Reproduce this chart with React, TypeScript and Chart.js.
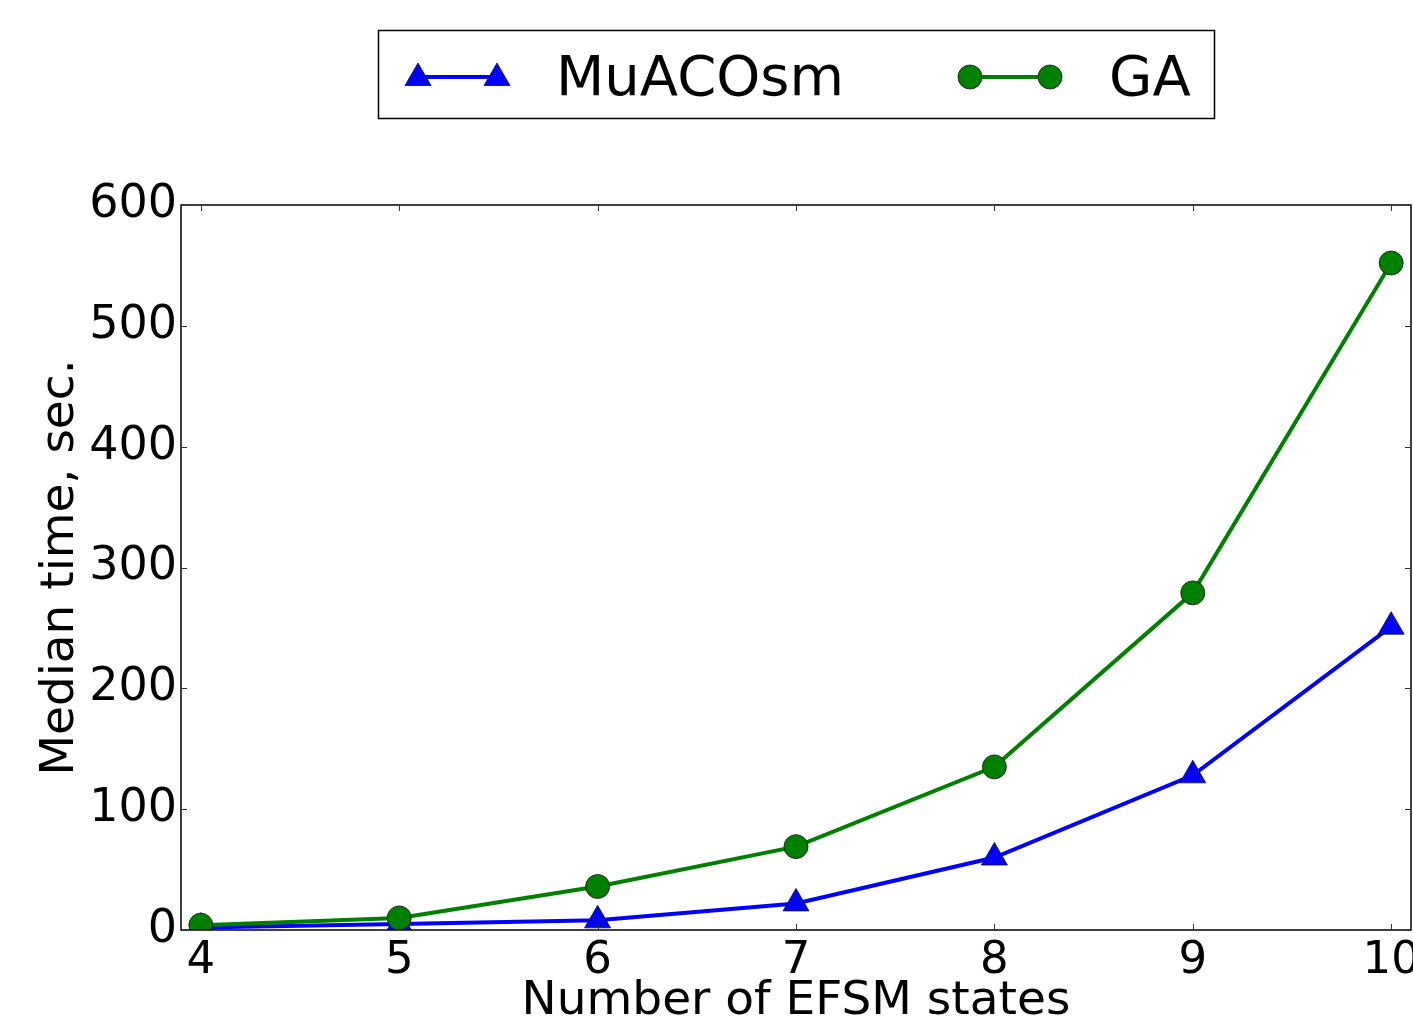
import React, { useEffect, useRef } from "react";
import { Chart, registerables } from "chart.js";

Chart.register(...registerables);

const states = [4, 5, 6, 7, 8, 9, 10];
const muacosm = [2, 5, 8, 22, 60, 128, 251];
const ga = [4, 10, 36, 69, 135, 279, 552];
const xTicks = [4, 5, 6, 7, 8, 9, 10];
const yTicks = [0, 100, 200, 300, 400, 500, 600];
const seriesNames = ["MuACOsm", "GA"];
const xTitle = "Number of EFSM states";
const yTitle = "Median time, sec.";

const FONT = "'DejaVu Sans', 'Liberation Sans', sans-serif";
const BLUE = "#0000ff";
const GREEN = "#008000";

function triangle(ctx: CanvasRenderingContext2D, x: number, y: number, r: number) {
  ctx.beginPath();
  for (let k = 0; k < 3; k++) {
    const a = -Math.PI / 2 + (k * 2 * Math.PI) / 3;
    const px = x + Math.cos(a) * r;
    const py = y + Math.sin(a) * r;
    if (k === 0) ctx.moveTo(px, py);
    else ctx.lineTo(px, py);
  }
  ctx.closePath();
}

const framePlugin = {
  id: "frame",
  afterDatasetsDraw(chart: any) {
    const { ctx, chartArea } = chart;
    const { left, right, top, bottom } = chartArea;
    const xs = chart.scales.x;
    const ys = chart.scales.y;
    ctx.save();
    ctx.strokeStyle = "#000";
    ctx.lineWidth = 1.5;
    ctx.strokeRect(left, top, right - left, bottom - top);
    ctx.strokeStyle = "#333";
    ctx.lineWidth = 1;
    const tl = 6;
    ctx.beginPath();
    xTicks.forEach((v) => {
      const px = Math.round(xs.getPixelForValue(v)) + 0.5;
      ctx.moveTo(px, bottom);
      ctx.lineTo(px, bottom - tl);
      ctx.moveTo(px, top);
      ctx.lineTo(px, top + tl);
    });
    yTicks.forEach((v) => {
      const py = Math.round(ys.getPixelForValue(v)) + 0.5;
      ctx.moveTo(left, py);
      ctx.lineTo(left + tl, py);
      ctx.moveTo(right, py);
      ctx.lineTo(right - tl, py);
    });
    ctx.stroke();
    ctx.restore();
  },
};

const legendPlugin = {
  id: "customLegend",
  afterDraw(chart: any) {
    const { ctx } = chart;
    ctx.save();
    ctx.fillStyle = "#fff";
    ctx.fillRect(378, 30, 836, 88);
    ctx.strokeStyle = "#000";
    ctx.lineWidth = 1.5;
    ctx.strokeRect(378.5, 30.5, 836, 88);
    const cy = 77;
    // MuACOsm
    ctx.strokeStyle = BLUE;
    ctx.lineWidth = 4;
    ctx.beginPath();
    ctx.moveTo(418, cy);
    ctx.lineTo(497, cy);
    ctx.stroke();
    [418, 497].forEach((x) => {
      triangle(ctx, x, cy + 1, 15);
      ctx.fillStyle = BLUE;
      ctx.fill();
      ctx.strokeStyle = "#111";
      ctx.lineWidth = 0.8;
      ctx.stroke();
    });
    // GA
    ctx.strokeStyle = GREEN;
    ctx.lineWidth = 4;
    ctx.beginPath();
    ctx.moveTo(970, cy);
    ctx.lineTo(1050, cy);
    ctx.stroke();
    [970, 1050].forEach((x) => {
      ctx.beginPath();
      ctx.arc(x, cy, 12, 0, Math.PI * 2);
      ctx.fillStyle = GREEN;
      ctx.fill();
      ctx.strokeStyle = "#111";
      ctx.lineWidth = 0.8;
      ctx.stroke();
    });
    ctx.fillStyle = "#000";
    ctx.font = `56px ${FONT}`;
    ctx.textBaseline = "middle";
    ctx.textAlign = "left";
    ctx.fillText(seriesNames[0], 556, cy + 3);
    ctx.fillText(seriesNames[1], 1109, cy + 3);
    ctx.restore();
  },
};

export default function App() {
  const ref = useRef<HTMLCanvasElement | null>(null);

  useEffect(() => {
    if (!ref.current) return;
    const chart = new Chart(ref.current, {
      type: "line",
      data: {
        datasets: [
          {
            label: seriesNames[0],
            data: states.map((x, i) => ({ x, y: muacosm[i] })),
            borderColor: BLUE,
            backgroundColor: BLUE,
            borderWidth: 4,
            pointStyle: "triangle",
            pointRadius: 15,
            pointBackgroundColor: BLUE,
            pointBorderColor: "#111",
            pointBorderWidth: 0.8,
            tension: 0,
            order: 1,
            clip: 0,
          },
          {
            label: seriesNames[1],
            data: states.map((x, i) => ({ x, y: ga[i] })),
            borderColor: GREEN,
            backgroundColor: GREEN,
            borderWidth: 4,
            pointStyle: "circle",
            pointRadius: 12,
            pointBackgroundColor: GREEN,
            pointBorderColor: "#111",
            pointBorderWidth: 0.8,
            tension: 0,
            order: 0,
            clip: 0,
          },
        ],
      },
      options: {
        animation: false,
        responsive: false,
        devicePixelRatio: 1,
        layout: { autoPadding: false, padding: { top: 205, right: 2, left: 0, bottom: 0 } },
        plugins: {
          legend: { display: false },
          tooltip: { enabled: false },
        },
        scales: {
          x: {
            type: "linear",
            min: 3.9,
            max: 10.1,
            afterBuildTicks: (s: any) => {
              s.ticks = xTicks.map((v) => ({ value: v }));
            },
            afterFit: (s: any) => {
              s.height = 95;
              s.paddingLeft = 0;
              s.paddingRight = 0;
            },
            grid: { display: false, drawTicks: false },
            border: { display: false },
            ticks: {
              color: "#000",
              font: { family: FONT, size: 45 },
              padding: 4,
              maxRotation: 0,
              autoSkip: false,
            },
            title: {
              display: true,
              text: xTitle,
              color: "#000",
              font: { family: FONT, size: 47, lineHeight: 1 },
              padding: 0,
            },
          },
          y: {
            type: "linear",
            min: 0,
            max: 600,
            afterBuildTicks: (s: any) => {
              s.ticks = yTicks.map((v) => ({ value: v }));
            },
            afterFit: (s: any) => {
              s.width = 181;
              s.paddingTop = 0;
              s.paddingBottom = 0;
            },
            grid: { display: false, drawTicks: false },
            border: { display: false },
            ticks: {
              color: "#000",
              font: { family: FONT, size: 46 },
              padding: 4,
              autoSkip: false,
            },
            title: {
              display: true,
              text: yTitle,
              color: "#000",
              font: { family: FONT, size: 47, lineHeight: 1.2 },
              padding: { top: 33, bottom: 0 },
            },
          },
        },
      },
      plugins: [framePlugin, legendPlugin],
    } as any);
    return () => chart.destroy();
  }, []);

  return (
    <div style={{ position: "absolute", left: 0, top: 0, width: 1413, height: 1025, background: "#fff" }}>
      <canvas ref={ref} width={1413} height={1025} style={{ display: "block", width: 1413, height: 1025 }} />
    </div>
  );
}
